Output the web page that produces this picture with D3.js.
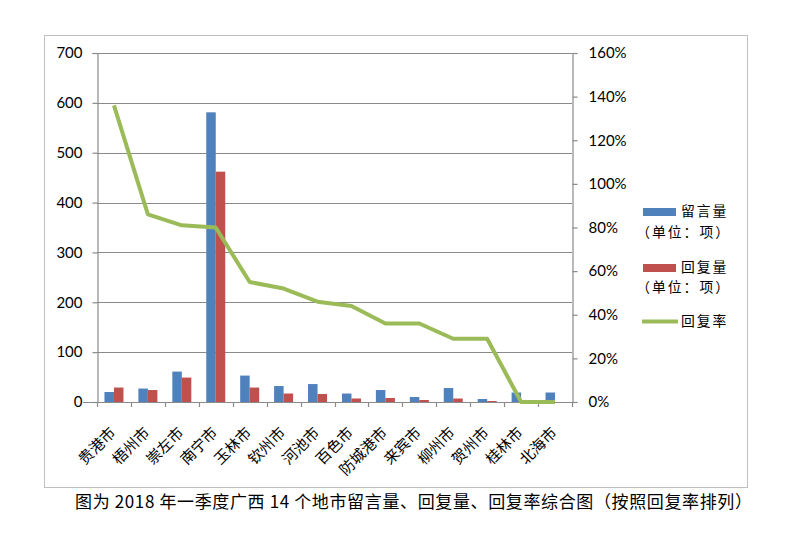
<!DOCTYPE html>
<html>
<head>
<meta charset="utf-8">
<script src="https://cdn.jsdelivr.net/npm/d3@7"></script>
<style>
  html, body { margin: 0; padding: 0; background: #fff; }
  svg { display: block; }
</style>
</head>
<body>
<svg id="chart" width="800" height="550"></svg>
<script>
// ---- data ----
const categories = ["贵港市","梧州市","崇左市","南宁市","玉林市","钦州市","河池市","百色市","防城港市","来宾市","柳州市","贺州市","桂林市","北海市"];
const messageCount = [20, 27, 61, 581, 53, 32, 36, 17, 24, 10, 28, 6, 19, 19];
const replyCount   = [29, 24, 49, 462, 29, 17, 16, 7, 8, 4, 7, 2, 0, 0];
const replyRate    = [1.36, 0.86, 0.81, 0.80, 0.55, 0.52, 0.46, 0.44, 0.36, 0.36, 0.29, 0.29, 0, 0];
const leftTicks  = [0, 100, 200, 300, 400, 500, 600, 700];
const rightTicks = [0, 0.2, 0.4, 0.6, 0.8, 1.0, 1.2, 1.4, 1.6];
const seriesNames = ["留言量", "回复量", "回复率"];
const unitLabel = "（单位：项）";
const caption = "图为 2018 年一季度广西 14 个地市留言量、回复量、回复率综合图（按照回复率排列）";

// ---- layout ----
const svg = d3.select("#chart");
const plot = { left: 97, right: 572, top: 53, bottom: 402 };
const colors = { msg: "#4F81BD", reply: "#C0504D", rate: "#9BBB59" };
const gridColor = "#8a8a8a";
const numFont = "Lato, 'Liberation Sans', sans-serif";
const cjkFont = "'Noto Sans CJK SC', sans-serif";

svg.append("rect").attr("x", 0).attr("y", 0).attr("width", 800).attr("height", 550).attr("fill", "#fff");
// outer chart border
svg.append("rect").attr("x", 44.5).attr("y", 35.5).attr("width", 703).attr("height", 452)
  .attr("fill", "none").attr("stroke", "#bfbfbf").attr("stroke-width", 1);

const x = d3.scaleBand().domain(categories).range([plot.left, plot.right]).paddingInner(0).paddingOuter(0);
const yL = d3.scaleLinear().domain([0, 700]).range([plot.bottom, plot.top]);
const yR = d3.scaleLinear().domain([0, 1.6]).range([plot.bottom, plot.top]);

// gridlines
svg.append("g").selectAll("line").data(leftTicks.filter(d => d > 0)).join("line")
  .attr("x1", plot.left).attr("x2", plot.right)
  .attr("y1", d => Math.round(yL(d)) + 0.5).attr("y2", d => Math.round(yL(d)) + 0.5)
  .attr("stroke", gridColor).attr("stroke-width", 1.2);

// left axis
const gL = svg.append("g").attr("transform", `translate(${plot.left + 0.5},0)`)
  .call(d3.axisLeft(yL).tickValues(leftTicks).tickSize(5).tickPadding(10).tickFormat(d3.format("d")));
gL.select(".domain").attr("stroke", gridColor).attr("stroke-width", 1.2);
gL.selectAll(".tick line").attr("stroke", gridColor).attr("stroke-width", 1.2);
gL.selectAll("text").attr("font-family", numFont).attr("font-size", 15).attr("fill", "#000");

// right axis
const gR = svg.append("g").attr("transform", `translate(${plot.right + 0.5},0)`)
  .call(d3.axisRight(yR).tickValues(rightTicks).tickSize(5).tickPadding(11).tickFormat(d3.format(".0%")));
gR.select(".domain").attr("stroke", gridColor).attr("stroke-width", 1.2);
gR.selectAll(".tick line").attr("stroke", gridColor).attr("stroke-width", 1.2);
gR.selectAll("text").attr("font-family", numFont).attr("font-size", 15).attr("fill", "#000");

// bottom axis line and ticks at band boundaries
const boundaries = categories.map(c => x(c)).concat([plot.right]);
svg.append("line").attr("x1", plot.left - 14).attr("x2", plot.right)
  .attr("y1", plot.bottom + 0.5).attr("y2", plot.bottom + 0.5)
  .attr("stroke", gridColor).attr("stroke-width", 1.2);
svg.append("g").selectAll("line").data(boundaries).join("line")
  .attr("x1", d => Math.round(d) + 0.5).attr("x2", d => Math.round(d) + 0.5)
  .attr("y1", plot.bottom).attr("y2", plot.bottom + 5)
  .attr("stroke", gridColor).attr("stroke-width", 1.2);

// bars
const barW = 9.5;
const bars = svg.append("g");
bars.selectAll("rect.msg").data(categories).join("rect").attr("class", "msg")
  .attr("x", (d) => x(d) + x.bandwidth() / 2 - barW)
  .attr("width", barW)
  .attr("y", (d, i) => yL(messageCount[i]))
  .attr("height", (d, i) => plot.bottom - yL(messageCount[i]))
  .attr("fill", colors.msg);
bars.selectAll("rect.reply").data(categories).join("rect").attr("class", "reply")
  .attr("x", (d) => x(d) + x.bandwidth() / 2)
  .attr("width", barW)
  .attr("y", (d, i) => yL(replyCount[i]))
  .attr("height", (d, i) => plot.bottom - yL(replyCount[i]))
  .attr("fill", colors.reply);

// rate line
const line = d3.line()
  .x((d, i) => x(categories[i]) + x.bandwidth() / 2)
  .y(d => yR(d));
svg.append("path").datum(replyRate).attr("d", line)
  .attr("fill", "none").attr("stroke", colors.rate).attr("stroke-width", 4)
  .attr("stroke-linejoin", "round");

// category labels
svg.append("g").selectAll("text").data(categories).join("text")
  .attr("transform", d => `translate(${x(d) + x.bandwidth() / 2 - 1},${plot.bottom + 28}) rotate(-45)`)
  .attr("text-anchor", "end").attr("dy", "0.35em")
  .attr("font-family", cjkFont).attr("font-size", 15).attr("fill", "#000")
  .text(d => d);

// legend
const legend = svg.append("g").attr("font-family", cjkFont).attr("font-size", 13.8).attr("fill", "#000");
function legendText(y1, name, withUnit) {
  const t = legend.append("text").attr("x", 681).attr("y", y1).attr("dy", "0.35em");
  t.append("tspan").attr("x", 681).attr("letter-spacing", 2).text(name);
  if (withUnit) {
    t.append("tspan").attr("x", 731).attr("dy", 20.2).attr("text-anchor", "end")
      .attr("letter-spacing", 2).text(unitLabel);
  }
}
legend.append("rect").attr("x", 643).attr("y", 208).attr("width", 33).attr("height", 8).attr("fill", colors.msg);
legendText(211.5, seriesNames[0], true);
legend.append("rect").attr("x", 643).attr("y", 264).attr("width", 33).attr("height", 8).attr("fill", colors.reply);
legendText(267, seriesNames[1], true);
legend.append("line").attr("x1", 642).attr("x2", 678).attr("y1", 321.5).attr("y2", 321.5)
  .attr("stroke", colors.rate).attr("stroke-width", 4);
legendText(321, seriesNames[2], false);

// caption
svg.append("text").attr("x", 75).attr("y", 502).attr("dy", "0.35em")
  .attr("font-family", cjkFont).attr("font-size", 17).attr("fill", "#000")
  .attr("textLength", 677).attr("lengthAdjust", "spacing")
  .text(caption);
</script>
</body>
</html>
